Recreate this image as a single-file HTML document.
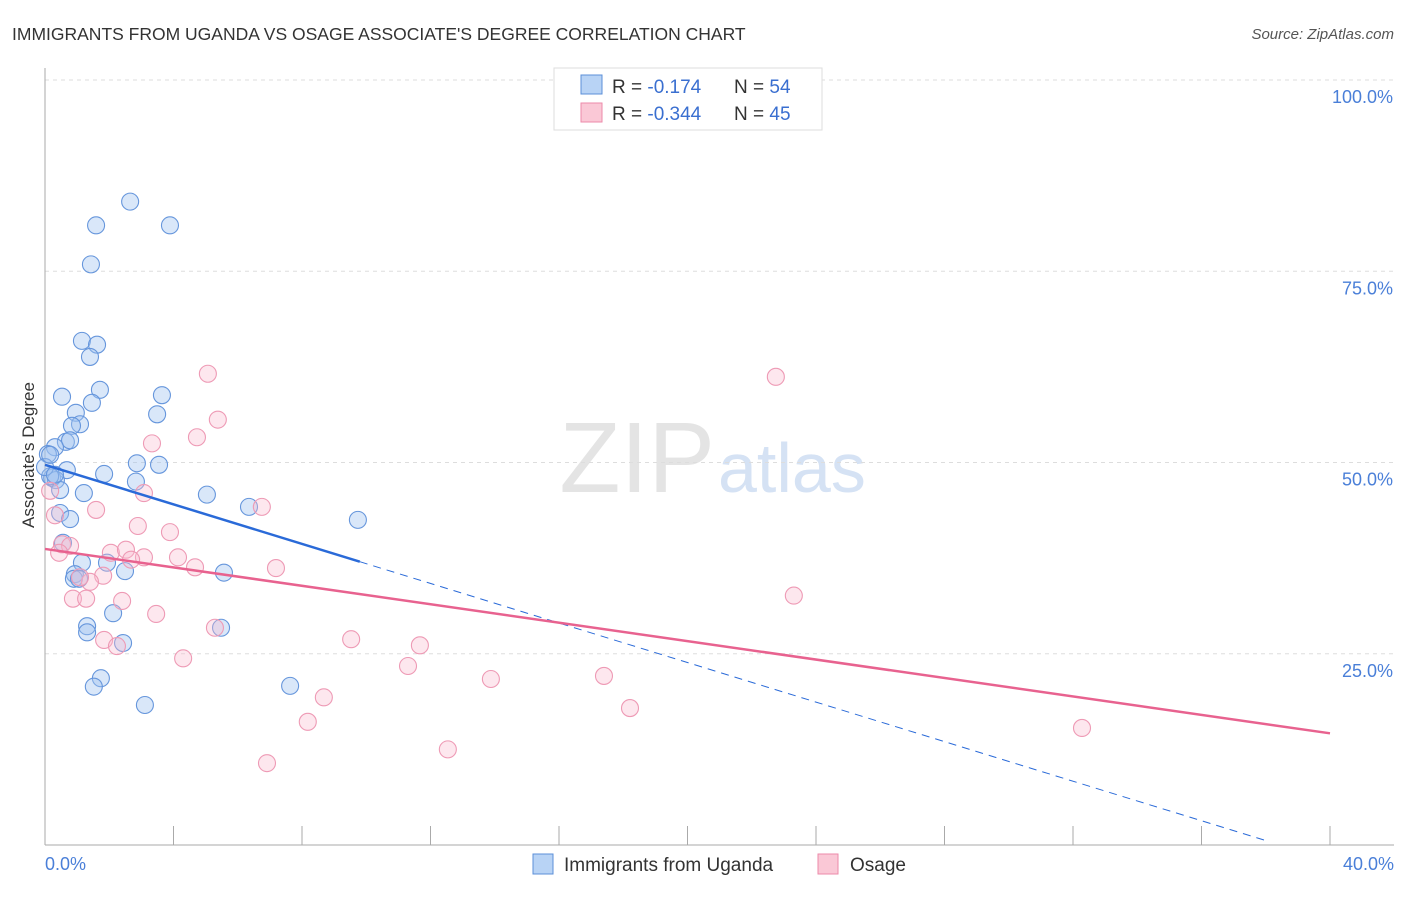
<!DOCTYPE html>
<html><head><meta charset="utf-8"><style>
body{margin:0;background:#fff;font-family:"Liberation Sans",sans-serif;}
svg text{font-family:"Liberation Sans",sans-serif;}
</style></head><body>
<svg id="chart" width="1406" height="892">
<text x="12" y="40" font-size="17.5" fill="#333">IMMIGRANTS FROM UGANDA VS OSAGE ASSOCIATE'S DEGREE CORRELATION CHART</text>
<text x="1394" y="39" font-size="15" fill="#555" text-anchor="end" font-style="italic">Source: ZipAtlas.com</text>
<text x="715" y="492" font-size="100" fill="#e4e4e4" text-anchor="end" font-family="Liberation Serif">ZIP</text>
<text x="718" y="492" font-size="70" fill="#d5e2f4">atlas</text>
<g id="grid"></g><g id="axes"></g><g id="pts"></g><g id="lines"></g>
<text transform="translate(34,455) rotate(-90)" font-size="17" fill="#333" text-anchor="middle">Associate's Degree</text>
<g>
<rect x="554" y="68" width="268" height="62" fill="#fff" stroke="#ddd"/>
<rect x="581" y="75" width="21" height="19" fill="#b8d3f5" stroke="#5b8fd8"/>
<rect x="581" y="103" width="21" height="19" fill="#fac8d6" stroke="#ec8aaa"/>
<text x="612" y="93" font-size="19" fill="#333">R = <tspan fill="#3a6fd0">-0.174</tspan><tspan x="734">N = </tspan><tspan fill="#3a6fd0">54</tspan></text>
<text x="612" y="120" font-size="19" fill="#333">R = <tspan fill="#3a6fd0">-0.344</tspan><tspan x="734">N = </tspan><tspan fill="#3a6fd0">45</tspan></text>
</g>
<g>
<rect x="533" y="854" width="20" height="20" fill="#b8d3f5" stroke="#5b8fd8"/>
<text x="564" y="871" font-size="19" fill="#333">Immigrants from Uganda</text>
<rect x="818" y="854" width="20" height="20" fill="#fac8d6" stroke="#ec8aaa"/>
<text x="850" y="871" font-size="19" fill="#333">Osage</text>
</g>
</svg>
<script>
const xTicks=[0,4,8,12,16,20,24,28,32,36,40];
const yTicks=[25,50,75,100];
const blueX=[2.65,1.59,3.89,1.43,1.15,1.62,1.40,1.71,0.53,3.64,1.46,0.96,3.49,1.09,0.84,0.65,0.78,0.31,0.09,2.86,3.55,0.68,1.84,0.22,0.34,2.83,0.47,1.21,5.04,6.35,0.47,0.78,9.74,0.56,1.15,1.93,2.49,5.57,0.93,0.90,1.06,2.12,5.48,1.31,1.31,2.43,1.74,1.52,7.63,3.11,0.16,0,0.31,0.16];
const blueY=[84.1,81.0,81.0,75.9,65.9,65.4,63.8,59.5,58.6,58.8,57.8,56.5,56.3,55.0,54.8,52.7,52.9,52.0,51.1,49.9,49.7,49.0,48.5,48.0,47.7,47.5,46.4,46.0,45.8,44.2,43.4,42.6,42.5,39.5,36.9,36.9,35.8,35.6,35.4,34.8,34.8,30.3,28.4,28.6,27.8,26.4,21.8,20.7,20.8,18.3,48.2,49.4,48.4,51.0];
const pinkX=[5.07,22.75,5.38,3.33,4.73,3.08,6.75,1.59,0.31,2.89,3.89,0.53,0.78,0.44,2.05,2.52,3.08,4.14,2.68,4.67,7.19,1.81,1.40,1.09,2.40,0.87,1.28,23.31,3.46,5.29,1.84,2.24,9.53,11.67,4.30,11.30,17.40,13.88,8.68,18.21,8.18,32.28,12.54,6.91,0.16];
const pinkY=[61.6,61.2,55.6,52.5,53.3,46.0,44.2,43.8,43.1,41.7,40.9,39.3,39.1,38.2,38.2,38.6,37.6,37.6,37.3,36.3,36.2,35.2,34.4,35.0,31.9,32.2,32.2,32.6,30.2,28.4,26.8,26.0,26.9,26.1,24.4,23.4,22.1,21.7,19.3,17.9,16.1,15.3,12.5,10.7,46.3];
const blueFit=[49.7,-2.0];
const pinkFit=[38.7,14.6];
const X=v=>45+v/40*1285, Y=v=>845-v/100*765;
const NS='http://www.w3.org/2000/svg';
function mk(p,t,a){const e=document.createElementNS(NS,t);for(const k in a)e.setAttribute(k,a[k]);document.getElementById(p).appendChild(e);return e;}
yTicks.forEach(v=>{
 const g=mk('grid','line',{x1:45,x2:1394,y1:Y(v),y2:Y(v),stroke:'#ddd','stroke-dasharray':'4,4'});
 
 
 const t=mk('grid','text',{x:1393,y:Y(v)+23,'font-size':18,fill:'#4a7fd8','text-anchor':'end'});t.textContent=v.toFixed(1)+'%';
 
 
});
mk('axes','line',{x1:45,x2:45,y1:68,y2:845,stroke:'#aaa'});
mk('axes','line',{x1:45,x2:1394,y1:845,y2:845,stroke:'#aaa'});
xTicks.forEach(v=>{
 const l=mk('axes','line',{x1:X(v),x2:X(v),y1:826,y2:845,stroke:'#aaa'});
 
 
});
[[0,'start',45],[40,'end',1394]].forEach(([v,a,x])=>{
 const t=mk('axes','text',{x:x,y:870,'font-size':18,fill:'#4a7fd8','text-anchor':a});t.textContent=v.toFixed(1)+'%';
 
 
});
blueX.forEach((v,i)=>{
 const c=mk('pts','circle',{cx:X(v),cy:Y(blueY[i]),r:8.5,fill:'rgba(160,196,240,0.4)',stroke:'#6696dc','stroke-width':1.1});
 
 
});
pinkX.forEach((v,i)=>{
 const c=mk('pts','circle',{cx:X(v),cy:Y(pinkY[i]),r:8.5,fill:'rgba(248,185,205,0.35)',stroke:'#ee9ab5','stroke-width':1.1});
 
 
});
const bAt=x=>blueFit[0]+(blueFit[1]-blueFit[0])*x/40;
let l=mk('lines','line',{x1:X(0),y1:Y(bAt(0)),x2:X(9.8),y2:Y(bAt(9.8)),stroke:'#2a6ad8','stroke-width':2.5});


l=mk('lines','line',{x1:X(9.8),y1:Y(bAt(9.8)),x2:X(38),y2:Y(bAt(38)),stroke:'#2a6ad8','stroke-width':1,'stroke-dasharray':'8,6'});


l=mk('lines','line',{x1:X(0),y1:Y(pinkFit[0]),x2:X(40),y2:Y(pinkFit[1]),stroke:'#e8628f','stroke-width':2.5});


</script>
</body></html>
